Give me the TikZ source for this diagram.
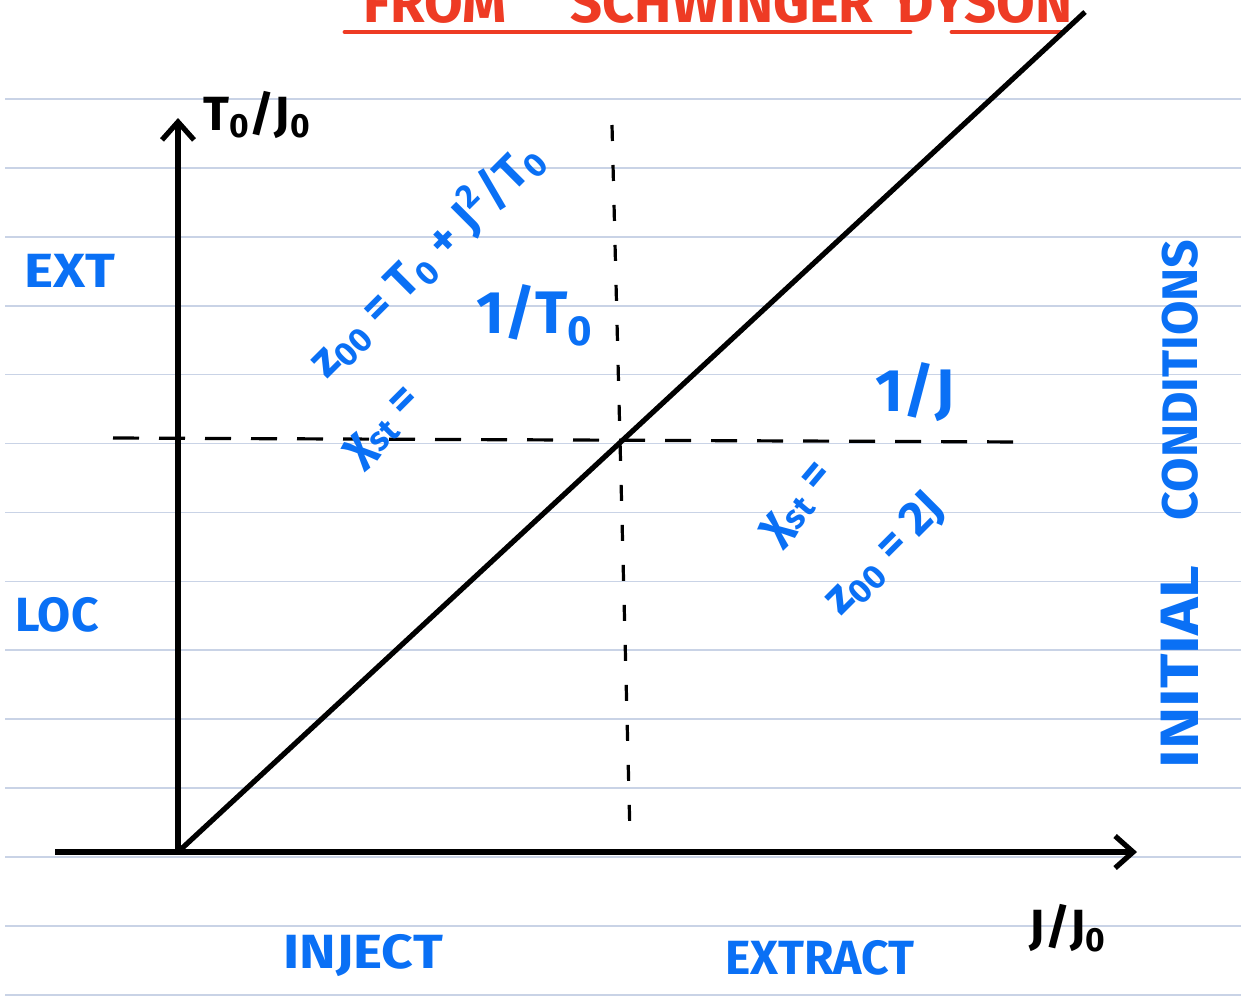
\documentclass[tikz,border=0pt]{standalone}
\usepackage{fontspec}
\setmainfont{Fira Sans}
\usetikzlibrary{arrows.meta}
\definecolor{ink}{HTML}{0A70F5}
\definecolor{redink}{HTML}{EE3B24}
\definecolor{rulecol}{HTML}{C9D3E6}
\tikzset{
  ruleline/.style={draw=rulecol, line width=0.8pt},
  axisline/.style={line width=2.6pt, -{Straight Barb[length=9pt,width=16pt]}},
  diagline/.style={line width=2.6pt},
  dashline/.style={line width=1.6pt, dash pattern=on 13pt off 10pt},
  vdashline/.style={line width=1.6pt, dash pattern=on 8pt off 12pt},
  bluetext/.style={text=ink, font=\bfseries\fontsize{24}{26}\selectfont, inner sep=0pt},
  blacktext/.style={text=black, font=\bfseries\fontsize{24}{26}\selectfont, inner sep=0pt},
  titletext/.style={text=redink, font=\bfseries\fontsize{28}{30}\selectfont, inner sep=0pt, anchor=base},
  redline/.style={draw=redink, line width=2.4pt, line cap=round},
}
\begin{document}
\begin{tikzpicture}[x=0.5pt,y=-0.5pt]
\useasboundingbox (0,0) rectangle (1241,996);
\clip (0,0) rectangle (1241,996);
% ruled paper
\foreach \k in {0,...,13}{
  \draw[ruleline] (5,{99+68.9*\k}) -- (1241,{99+68.9*\k});
}
% title
\node[titletext] (tfrom) at (435,22) {FROM};
\node[titletext] (tschw) at (722,22) {SCHWINGER};
\node[titletext] (tdot) at (905,18) {·};
\node[titletext] (tdyson) at (985,22) {DYSON};
\coordinate (u1a) at (345,32);
\coordinate (u1b) at (910,32);
\coordinate (u2a) at (952,32);
\coordinate (u2b) at (1062,32);
\draw[redline] (u1a) -- (u1b);
\draw[redline] (u2a) -- (u2b);
% axes
\coordinate (O) at (178,852);
\coordinate (ytop) at (178,118);
\coordinate (xleft) at (55,852);
\coordinate (xright) at (1137,852);
\coordinate (dend) at (1085,12);
\draw[axisline] (O) -- (ytop);
\draw[axisline] (xleft) -- (xright);
\draw[diagline] (O) -- (dend);
% dashed guides
\coordinate (hl) at (113,438);
\coordinate (hr) at (1025,442);
\coordinate (vt) at (612,125);
\coordinate (vb) at (630,835);
\draw[dashline] (hl) -- (hr);
\draw[vdashline] (vt) -- (vb);
% axis labels
\node[blacktext] (ylab) at (257,115) {T\textsubscript{0}/J\textsubscript{0}};
\node[blacktext] (xlab) at (1068,928) {J/J\textsubscript{0}};
% side labels
\node[bluetext, xscale=1.15] (ext) at (70,271) {EXT};
\node[bluetext] (loc) at (57,615) {LOC};
\node[bluetext, xscale=1.15] (inject) at (363,955) {INJECT};
\node[bluetext] (extract) at (820,958) {EXTRACT};
\node[bluetext, rotate=90, font=\bfseries\fontsize{25}{27}\selectfont] (cond) at (1180,380) {CONDITIONS};
\node[bluetext, rotate=90, xscale=1.18, font=\bfseries\fontsize{27}{29}\selectfont] (init) at (1180,667) {INITIAL};
% formulas left
\node[bluetext, rotate=45] (zleft) at (425,258) {z\textsubscript{00} = T\textsubscript{0} + J\textsuperscript{2}/T\textsubscript{0}};
\node[bluetext, rotate=45] (chileft) at (385,428) {χ\textsubscript{st} =};
\node[bluetext, font=\bfseries\fontsize{30}{32}\selectfont] (invT) at (535,315) {1/T\textsubscript{0}};
% formulas right
\node[bluetext, rotate=50] (chiright) at (800,505) {χ\textsubscript{st} =};
\node[bluetext, font=\bfseries\fontsize{30}{32}\selectfont] (invJ) at (915,392) {1/J};
\node[bluetext, rotate=45] (zright) at (885,555) {z\textsubscript{00} = 2J};
\end{tikzpicture}
\end{document}
